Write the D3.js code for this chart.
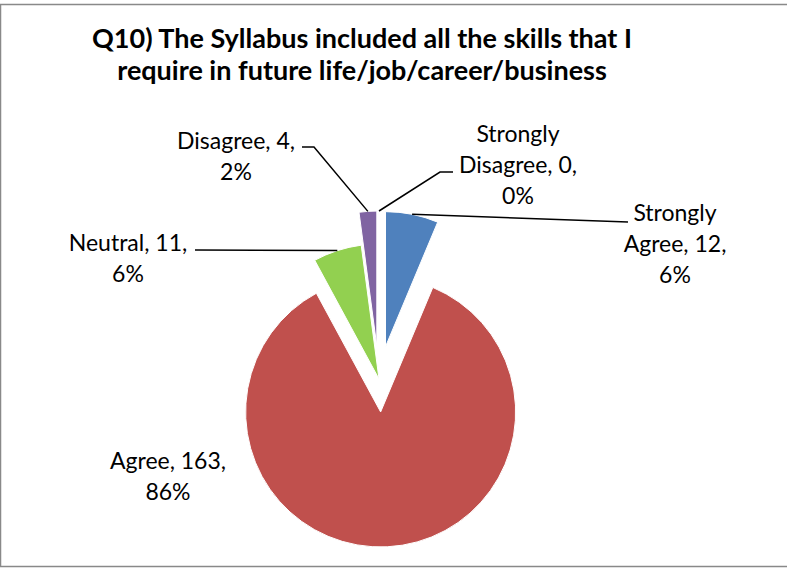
<!DOCTYPE html>
<html>
<head>
<meta charset="utf-8">
<script src="https://cdn.jsdelivr.net/npm/d3@7"></script>
<style>
    body { margin: 0; background: #fff; }
    svg { display: block; }
    text { font-family: Lato, "Open Sans", sans-serif; fill: #000; }
</style>
</head>
<body>
<div id="chart"></div>
<script>
// Data
const categories = ["Strongly Agree", "Agree", "Neutral", "Disagree", "Strongly Disagree"];
const counts = [12, 163, 11, 4, 0];
const colors = ["#4F81BD", "#C0504D", "#92D050", "#8064A2", "#4BACC6"];
const titleLines = [
    "Q10) The Syllabus included all the skills that I",
    "require in future life/job/career/business"
];

// Layout (per slice): explosion distance and label anchor
const explode = [33, 33, 0, 33, 33];
const labelPos = [
    { x: 675, y: 221, lead: [[628, 222]] },
    { x: 168, y: 469, lead: null },
    { x: 128, y: 251, lead: [[195, 250]] },
    { x: 236, y: 149, lead: [[302, 147], [314, 147]] },
    { x: 518, y: 142, lead: [[453, 172], [440, 172]] }
];

const width = 787;
const height = 568;
const cx = 379, cy = 379, radius = 135;

const svg = d3.select("#chart")
    .append("svg")
    .attr("width", width)
    .attr("height", height);

// Chart frame
svg.append("rect")
    .attr("x", 0.5)
    .attr("y", 4.5)
    .attr("width", 790)
    .attr("height", 562)
    .attr("fill", "#fff")
    .attr("stroke", "#898989")
    .attr("stroke-width", 1.5);

// Title
svg.append("text")
    .attr("x", 362)
    .attr("y", 48)
    .attr("text-anchor", "middle")
    .style("font-weight", "bold")
    .style("font-size", "27px")
    .selectAll("tspan")
    .data(titleLines)
    .join("tspan")
    .attr("x", 362)
    .attr("dy", (d, i) => i === 0 ? 0 : 32)
    .text(d => d);

const total = d3.sum(counts);
const data = categories.map((name, i) => ({ name, value: counts[i], i }));

const pie = d3.pie()
    .sort(null)
    .value(d => d.value);

const arc = d3.arc()
    .innerRadius(0)
    .outerRadius(radius);

const arcs = pie(data);

function offset(a) {
    const mid = (a.startAngle + a.endAngle) / 2;
    const e = explode[a.data.i];
    return [e * Math.sin(mid), -e * Math.cos(mid)];
}

const g = svg.append("g")
    .attr("transform", `translate(${cx},${cy})`);

g.selectAll("path.slice")
    .data(arcs.filter(a => a.value > 0))
    .join("path")
    .attr("class", "slice")
    .attr("transform", a => `translate(${offset(a)})`)
    .attr("d", arc)
    .attr("fill", a => colors[a.data.i])
    .attr("stroke", "#fff")
    .attr("stroke-width", 1);

// Leader lines go to the outer middle of each slice
arcs.forEach(a => {
    const lp = labelPos[a.data.i];
    if (!lp.lead) return;
    const mid = (a.startAngle + a.endAngle) / 2;
    const [ox, oy] = offset(a);
    const end = [cx + ox + radius * Math.sin(mid), cy + oy - radius * Math.cos(mid)];
    const pts = lp.lead.concat([end]);
    svg.append("path")
        .attr("d", d3.line()(pts))
        .attr("fill", "none")
        .attr("stroke", "#000")
        .attr("stroke-width", 1.5);
});

// Labels: name, value, percent
arcs.forEach(a => {
    const lp = labelPos[a.data.i];
    const words = a.data.name.split(" ");
    const pct = Math.round(a.value / total * 100);
    const lines = [];
    if (words.length > 1) lines.push(words[0]);
    lines.push(`${words[words.length - 1]}, ${a.value},`);
    lines.push(`${pct}%`);

    svg.append("text")
        .attr("x", lp.x)
        .attr("y", lp.y)
        .attr("text-anchor", "middle")
        .style("font-size", "23px")
        .selectAll("tspan")
        .data(lines)
        .join("tspan")
        .attr("x", lp.x)
        .attr("dy", (d, i) => i === 0 ? 0 : 31)
        .text(d => d);
});
</script>
</body>
</html>
